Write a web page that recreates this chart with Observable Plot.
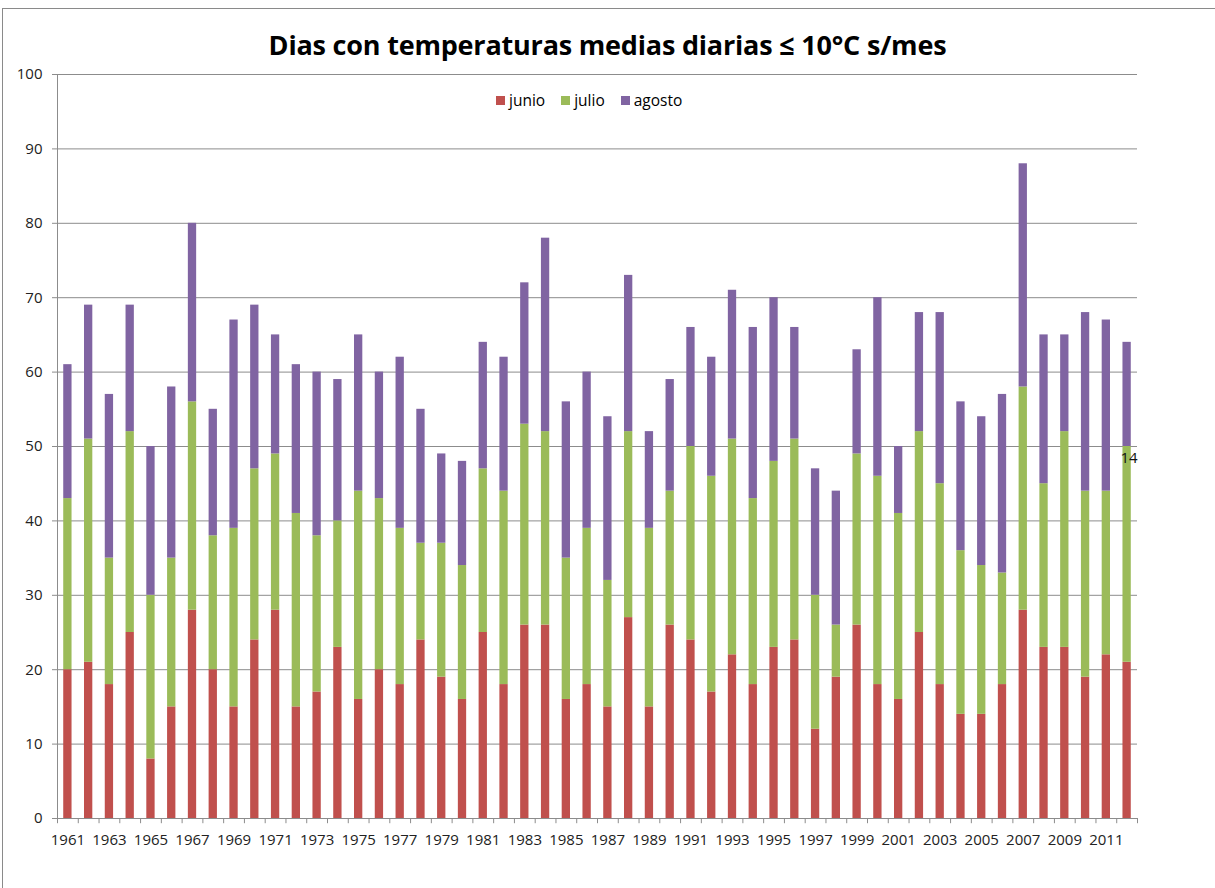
<!DOCTYPE html>
<html>
<head>
<meta charset="utf-8">
<script src="https://cdn.jsdelivr.net/npm/d3@7"></script>
<script src="https://cdn.jsdelivr.net/npm/@observablehq/plot@0.6"></script>
<style>
  html, body { margin: 0; padding: 0; background: #fff; overflow: hidden; }
  #wrap { position: relative; width: 1215px; height: 888px; overflow: hidden; font-family: "Open Sans", sans-serif; }
  #frame { position: absolute; left: 2px; top: 8px; width: 1300px; height: 1000px; border-left: 1.5px solid #8a8a8a; border-top: 1.5px solid #8a8a8a; box-sizing: border-box; }
  #title { position: absolute; left: 0; width: 1215px; top: 26px; text-align: center; font-weight: bold; font-size: 27px; color: #000; letter-spacing: -0.2px; }
  #legend { position: absolute; top: 89px; left: 496px; font-size: 15.5px; color: #000; display: flex; gap: 16px; }
  #legend span.item { display: flex; align-items: center; }
  #legend i { display: inline-block; width: 9px; height: 9px; margin-right: 4px; }
  #chart { position: absolute; left: 0; top: 0; }
</style>
</head>
<body>
<div id="wrap">
  <div id="frame"></div>
  <div id="chart"></div>
  <div id="title">Dias con temperaturas medias diarias ≤ 10°C s/mes</div>
  <div id="legend"></div>
</div>
<script>
const years = [1961,1962,1963,1964,1965,1966,1967,1968,1969,1970,1971,1972,1973,1974,1975,1976,1977,1978,1979,1980,1981,1982,1983,1984,1985,1986,1987,1988,1989,1990,1991,1992,1993,1994,1995,1996,1997,1998,1999,2000,2001,2002,2003,2004,2005,2006,2007,2008,2009,2010,2011,2012];
const junio  = [20,21,18,25,8,15,28,20,15,24,28,15,17,23,16,20,18,24,19,16,25,18,26,26,16,18,15,27,15,26,24,17,22,18,23,24,12,19,26,18,16,25,18,14,14,18,28,23,23,19,22,21];
const julio  = [23,30,17,27,22,20,28,18,24,23,21,26,21,17,28,23,21,13,18,18,22,26,27,26,19,21,17,25,24,18,26,29,29,25,25,27,18,7,23,28,25,27,27,22,20,15,30,22,29,25,22,29];
const agosto = [18,18,22,17,20,23,24,17,28,22,16,20,22,19,21,17,23,18,12,14,17,18,19,26,21,21,22,21,13,15,16,16,20,23,22,15,17,18,14,24,9,16,23,20,20,24,30,20,13,24,23,14];
const months = ["junio", "julio", "agosto"];
const colors = ["#C0504D", "#9BBB59", "#8064A2"];
const yTicks = [0,10,20,30,40,50,60,70,80,90,100];
const xLabels = years.filter((y, i) => i % 2 === 0);
const labelled = [{year: 2012, base: junio[51] + julio[51], value: agosto[51]}];

const rows = [];
years.forEach((y, i) => {
  rows.push({year: y, month: "junio", value: junio[i]});
  rows.push({year: y, month: "julio", value: julio[i]});
  rows.push({year: y, month: "agosto", value: agosto[i]});
});

const W = 1215, H = 888, ML = 57, MR = 78, MT = 74, MB = 70;
const step = (W - ML - MR) / years.length;
const grid = "#8c8c8c";

const plot = Plot.plot({
  width: W, height: H,
  marginLeft: ML, marginRight: MR, marginTop: MT, marginBottom: MB,
  style: {fontFamily: "Open Sans, sans-serif", fontSize: "15px", color: "#222", background: "transparent"},
  x: {type: "band", domain: years, paddingInner: 0.6, paddingOuter: 0.3, axis: null},
  y: {domain: [0, 100], axis: null},
  color: {domain: months, range: colors},
  marks: [
    Plot.gridY(yTicks, {stroke: grid, strokeOpacity: 1, strokeWidth: 1}),
    Plot.ruleX([years[0]], {dx: -step / 2, y1: 0, y2: 100, stroke: grid}),
    Plot.axisY({ticks: yTicks, tickSize: 5, tickPadding: 10, stroke: grid, fill: "#222", tickFormat: d => d, fontSize: 15}),
    Plot.barY(rows, Plot.stackY({x: "year", y: "value", fill: "month", order: months})),
    Plot.ruleX(years, {x: d => d, dx: -step / 2, y1: 0, y2: -0.7, stroke: grid}),
    Plot.ruleX([years[years.length - 1]], {dx: step / 2, y1: 0, y2: -0.7, stroke: grid}),
    Plot.text(xLabels, {x: d => d, y: 0, dy: 22, text: d => String(d), fill: "#222", fontSize: 15}),
    Plot.text(labelled, {x: "year", y: "base", dy: 12, dx: 2, text: d => String(d.value), fill: "#111", fontSize: 15})
  ]
});
document.getElementById("chart").appendChild(plot);

const legend = document.getElementById("legend");
months.forEach((m, i) => {
  const s = document.createElement("span");
  s.className = "item";
  s.innerHTML = `<i style="background:${colors[i]}"></i>${m}`;
  legend.appendChild(s);
});
</script>
</body>
</html>
